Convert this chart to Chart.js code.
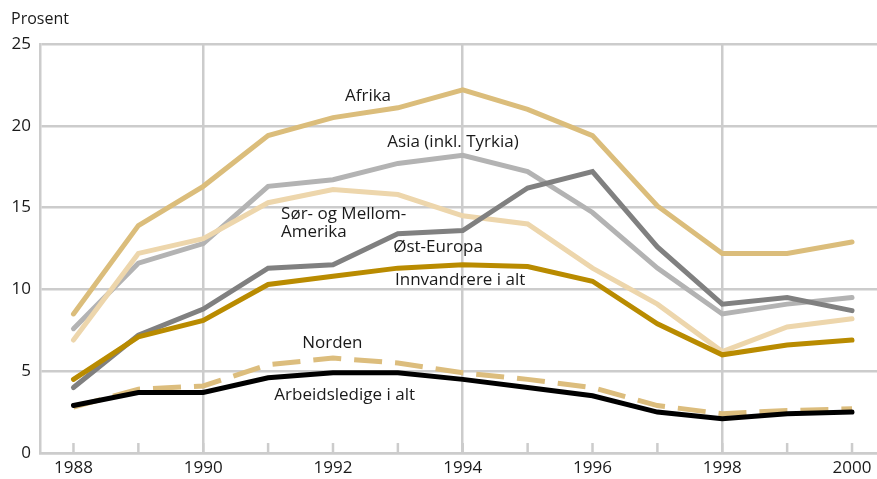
<!DOCTYPE html>
<html>
<head>
<meta charset="utf-8">
<script src="https://cdn.jsdelivr.net/npm/chart.js@4.4.1/dist/chart.umd.min.js"></script>
<style>
html,body{margin:0;padding:0;background:#fff;}
canvas{display:block;}
</style>
</head>
<body>
<canvas id="c" width="877" height="479"></canvas>
<script>
const years = [1988,1989,1990,1991,1992,1993,1994,1995,1996,1997,1998,1999,2000];
const afrika       = [8.5,13.9,16.3,19.4,20.5,21.1,22.2,21.0,19.4,15.1,12.2,12.2,12.9];
const asia         = [7.6,11.6,12.8,16.3,16.7,17.7,18.2,17.2,14.7,11.3,8.5,9.1,9.5];
const sorAmerika   = [6.9,12.2,13.1,15.3,16.1,15.8,14.5,14.0,11.3,9.1,6.2,7.7,8.2];
const ostEuropa    = [4.0,7.2,8.8,11.3,11.5,13.4,13.6,16.2,17.2,12.6,9.1,9.5,8.7];
const innvandrere  = [4.5,7.1,8.1,10.3,10.8,11.3,11.5,11.4,10.5,7.9,6.0,6.6,6.9];
const norden       = [2.8,3.9,4.1,5.4,5.8,5.5,4.9,4.5,4.0,2.9,2.4,2.6,2.7];
const arbeidsledige= [2.9,3.7,3.7,4.6,4.9,4.9,4.5,4.0,3.5,2.5,2.1,2.4,2.5];
const xTickLabels = [1988,1990,1992,1994,1996,1998,2000];
const yTickLabels = [0,5,10,15,20,25];
const xGridYears = [1990,1994,1998];

// text annotations (label text, anchor year, anchor value, alignment)
const annotations = [
  {text:'Afrika', x:1992.54, y:21.8, align:'center'},
  {text:'Asia (inkl. Tyrkia)', x:1993.85, y:19.0, align:'center'},
  {text:'Sør- og Mellom-', x:1991.2, y:14.6, align:'left'},
  {text:'Amerika', x:1991.2, y:13.5, align:'left'},
  {text:'Øst-Europa', x:1993.62, y:12.56, align:'center'},
  {text:'Innvandrere i alt', x:1993.96, y:10.55, align:'center'},
  {text:'Norden', x:1991.99, y:6.7, align:'center'},
  {text:'Arbeidsledige i alt', x:1992.18, y:3.53, align:'center'}
];

const pts = arr => arr.map((v,i)=>({x:years[i], y:v}));
const FONT = '"Open Sans", "Noto Sans", sans-serif';

const mk = (label, data, color, order, dash) => ({
  label, data: pts(data), borderColor: color, backgroundColor: color,
  borderWidth: 5, pointRadius: 0, pointHoverRadius: 0, tension: 0, fill: false,
  borderCapStyle: dash ? 'butt' : 'round', borderJoinStyle: 'miter',
  borderDash: dash || [], order
});

const decor = {
  id: 'decor',
  beforeDatasetsDraw(chart){
    const {ctx, scales:{x,y}} = chart;
    ctx.save();
    ctx.strokeStyle = '#cccccc';
    ctx.lineWidth = 2.5;
    const y0 = y.getPixelForValue(0);
    years.forEach(yr=>{
      const px = x.getPixelForValue(yr);
      ctx.beginPath(); ctx.moveTo(px, y0); ctx.lineTo(px, y0-10); ctx.stroke();
    });
    ctx.restore();
  },
  afterDatasetsDraw(chart){
    const {ctx, scales:{x,y}} = chart;
    ctx.save();
    ctx.fillStyle = '#1a1a1a';
    ctx.font = '17px ' + FONT;
    ctx.textBaseline = 'middle';
    annotations.forEach(a=>{
      ctx.textAlign = a.align;
      ctx.fillText(a.text, x.getPixelForValue(a.x), y.getPixelForValue(a.y));
    });
    ctx.font = '16px ' + FONT;
    ctx.textAlign = 'left';
    ctx.fillText('Prosent', 11, 19);
    ctx.restore();
  }
};

new Chart(document.getElementById('c'), {
  type: 'line',
  data: {
    datasets: [
      mk('Arbeidsledige i alt', arbeidsledige, '#000000', 1),
      mk('Norden', norden, '#dcbd7d', 2, [28,13]),
      mk('Afrika', afrika, '#dbbd7b', 3),
      mk('Innvandrere i alt', innvandrere, '#b98b00', 4),
      mk('Øst-Europa', ostEuropa, '#808080', 5),
      mk('Sør- og Mellom-Amerika', sorAmerika, '#edd6ac', 6),
      mk('Asia (inkl. Tyrkia)', asia, '#b3b3b3', 7)
    ]
  },
  options: {
    responsive: false,
    animation: false,
    devicePixelRatio: 1,
    layout: {padding: {top: 44, right: 0, left: 0, bottom: 0}},
    plugins: {legend: {display: false}, tooltip: {enabled: false}},
    scales: {
      x: {
        type: 'linear', min: 1987.484, max: 2000.385,
        afterBuildTicks: s => { s.ticks = xTickLabels.map(v=>({value:v})); },
        afterFit: s => { s.height = 26; },
        grid: {
          drawTicks: false, lineWidth: 2.5,
          color: c => (c.tick && xGridYears.includes(c.tick.value)) ? '#cccccc' : 'rgba(0,0,0,0)'
        },
        border: {display: true, color: '#cccccc', width: 2.5},
        ticks: {padding: 5, color: '#1a1a1a', font: {family: FONT, size: 17},
                callback: v => String(v), maxRotation: 0, autoSkip: false}
      },
      y: {
        min: 0, max: 25,
        afterBuildTicks: s => { s.ticks = yTickLabels.map(v=>({value:v})); },
        afterFit: s => { s.width = 40; },
        grid: {drawTicks: false, lineWidth: 2.5, color: '#cccccc'},
        border: {display: true, color: '#cccccc', width: 2.5},
        ticks: {padding: 9, color: '#1a1a1a', font: {family: FONT, size: 17},
                callback: v => String(v)}
      }
    }
  },
  plugins: [decor]
});
</script>
</body>
</html>
